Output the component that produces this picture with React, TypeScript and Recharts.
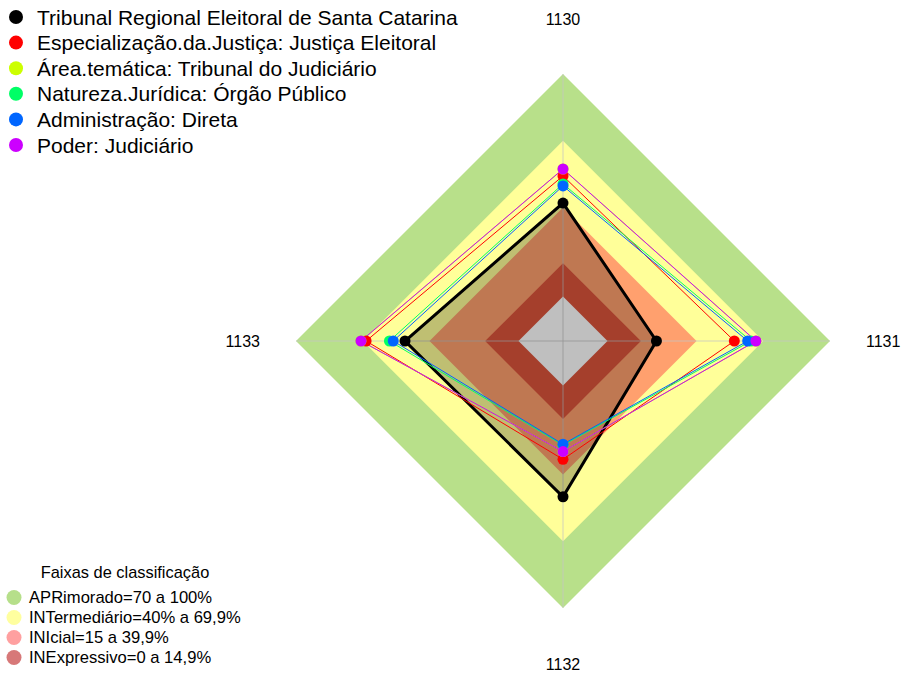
import React from 'react';
import { RadarChart, Radar, PolarGrid, PolarAngleAxis, PolarRadiusAxis } from 'recharts';

// ---- data ----
const axisLabels = ['1130', '1131', '1132', '1133'];

const seriesNames = [
  'Tribunal Regional Eleitoral de Santa Catarina',
  'Especialização.da.Justiça: Justiça Eleitoral',
  'Área.temática: Tribunal do Judiciário',
  'Natureza.Jurídica: Órgão Público',
  'Administração: Direta',
  'Poder: Judiciário',
];
const seriesColors = ['#000000', '#FF0000', '#CCFF00', '#00FF66', '#0066FF', '#CC00FF'];

const tribunalSC = [42, 22, 50, 51];
const especializacao = [54.2, 57, 33.2, 68.5];
const areaTematica = [57.3, 66.7, 29.7, 70.8];
const naturezaJuridica = [50.6, 64.5, 26.8, 58];
const administracao = [49.7, 63, 26.4, 56.3];
const poder = [57.3, 66.7, 29.7, 70.8];

const seriesValues = [tribunalSC, especializacao, areaTematica, naturezaJuridica, administracao, poder];

const bandLevels = [100, 70, 40, 15, 0];
const bandColors = ['#B8E08A', '#FFFF99', '#FFA06E', '#DD543B', '#FFFFFF'];

const bandTitle = 'Faixas de classificação';
const bandLegendLabels = [
  'APRimorado=70 a 100%',
  'INTermediário=40% a 69,9%',
  'INIcial=15 a 39,9%',
  'INExpressivo=0 a 14,9%',
];
const bandLegendColors = ['#B6DF8A', '#FFFF9F', '#FFA0A0', '#D77878'];

// ---- layout ----
const W = 905;
const H = 675;
const CX = 563;
const CY = 341;
const R = 267;
const FONT = '"Liberation Sans", Arial, Helvetica, sans-serif';

const data = axisLabels.map((a, i) => {
  const row: Record<string, any> = { axis: a };
  bandLevels.forEach((b, j) => (row['b' + j] = b));
  seriesValues.forEach((s, j) => (row['s' + j] = s[i]));
  return row;
});

const common = {
  width: W,
  height: H,
  cx: CX,
  cy: CY,
  outerRadius: R,
  margin: { top: 0, right: 0, bottom: 0, left: 0 },
  data,
};

const layerStyle: React.CSSProperties = { position: 'absolute', left: 0, top: 0 };

const renderTick = (props: any) => {
  const { x, y, payload } = props;
  const dx = x - CX;
  const dy = y - CY;
  let tx = x;
  let ty = y;
  let anchor: 'start' | 'middle' | 'end' = 'middle';
  if (Math.abs(dx) > Math.abs(dy)) {
    anchor = dx > 0 ? 'start' : 'end';
    tx = x + (dx > 0 ? 28 : -28);
  } else {
    ty = y + (dy < 0 ? -47 : 48);
  }
  return (
    <text x={tx} y={ty} textAnchor={anchor} dominantBaseline="central" fontSize={16} fontFamily={FONT} fill="#000">
      {payload.value}
    </text>
  );
};

export default function App() {
  return (
    <div style={{ position: 'absolute', left: 0, top: 0, width: W, height: H, background: '#fff' }}>
      {/* bands */}
      <div style={layerStyle}>
        <RadarChart {...common}>
          <PolarAngleAxis dataKey="axis" tick={false} axisLine={false} tickLine={false} />
          <PolarRadiusAxis domain={[-20, 100]} tick={false} axisLine={false} />
          {bandLevels.map((b, j) => (
            <Radar
              key={'b' + j}
              dataKey={'b' + j}
              stroke="none"
              fill={bandColors[j]}
              fillOpacity={1}
              dot={false}
              isAnimationActive={false}
            />
          ))}
        </RadarChart>
      </div>
      {/* spokes */}
      <div style={layerStyle}>
        <RadarChart {...common}>
          <PolarGrid gridType="polygon" polarRadius={[]} radialLines stroke="#c4c4c4" strokeOpacity={0.75} />
          <PolarAngleAxis dataKey="axis" tick={false} axisLine={false} tickLine={false} />
          <PolarRadiusAxis domain={[-20, 100]} tick={false} axisLine={false} />
        </RadarChart>
      </div>
      {/* series */}
      <div style={layerStyle}>
        <RadarChart {...common}>
          <PolarAngleAxis dataKey="axis" tick={renderTick} axisLine={false} tickLine={false} />
          <PolarRadiusAxis domain={[-20, 100]} tick={false} axisLine={false} />
          {seriesValues.map((_, j) => (
            <Radar
              key={'s' + j}
              dataKey={'s' + j}
              name={seriesNames[j]}
              stroke={seriesColors[j]}
              strokeWidth={j === 0 ? 3 : 1}
              fill={j === 0 ? '#000000' : 'none'}
              fillOpacity={j === 0 ? 0.25 : 0}
              dot={{ r: 5.5, fill: seriesColors[j], fillOpacity: 1, stroke: 'none', strokeWidth: 0 }}
              isAnimationActive={false}
            />
          ))}
        </RadarChart>
      </div>
      {/* legends */}
      <svg width={W} height={H} style={layerStyle}>
        {seriesNames.map((n, j) => (
          <g key={n}>
            <circle cx={16} cy={17 + j * 25.6} r={7} fill={seriesColors[j]} />
            <text x={37} y={17 + j * 25.6} dominantBaseline="central" fontSize={21} fontFamily={FONT} fill="#000">
              {n}
            </text>
          </g>
        ))}
        <text x={125} y={572} textAnchor="middle" dominantBaseline="central" fontSize={16.4} fontFamily={FONT} fill="#000">
          {bandTitle}
        </text>
        {bandLegendLabels.map((n, j) => (
          <g key={n}>
            <circle cx={14} cy={597.5 + j * 20} r={7.5} fill={bandLegendColors[j]} />
            <text x={29} y={597.5 + j * 20} dominantBaseline="central" fontSize={16.6} fontFamily={FONT} fill="#000">
              {n}
            </text>
          </g>
        ))}
      </svg>
    </div>
  );
}
